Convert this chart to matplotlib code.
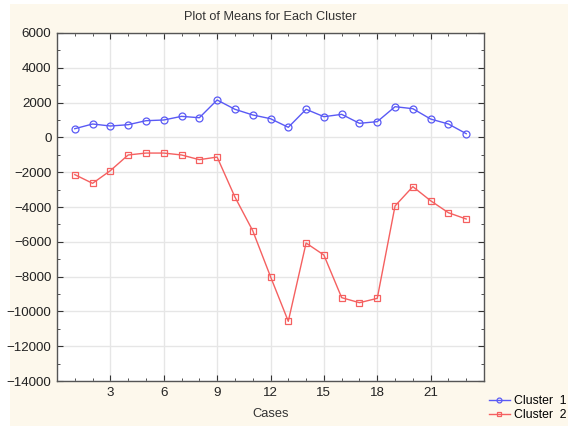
import matplotlib
matplotlib.use("Agg")
import matplotlib.pyplot as plt
from matplotlib.patches import Rectangle
from matplotlib.ticker import MultipleLocator

plt.rcParams['font.family'] = ['Liberation Sans', 'DejaVu Sans']

# mean value per case for each cluster
cases = list(range(1, 24))
cluster1 = [500, 770, 655, 730, 960, 1000, 1210, 1130, 2150, 1615, 1290, 1075,
            580, 1615, 1190, 1325, 810, 905, 1765, 1650, 1055, 770, 215]
cluster2 = [-2140, -2640, -1910, -1010, -900, -900, -1010, -1280, -1130, -3425,
            -5360, -8000, -10570, -6070, -6760, -9210, -9500, -9250, -3940,
            -2830, -3640, -4330, -4690]

fig = plt.figure(figsize=(5.68, 4.26), dpi=100)
fig.patch.set_facecolor('white')
# cream panel behind everything, leaving a thin white strip top/left
fig.add_artist(Rectangle((10 / 568, 0), 1, 1 - 4 / 426, transform=fig.transFigure,
                         facecolor='#fdf8ec', edgecolor='none', zorder=-10))

ax = fig.add_axes([57 / 568, 1 - 381 / 426, (484 - 57) / 568, (381 - 33) / 426])
ax.set_facecolor('white')

ax.plot(cases, cluster1, color='#5a5af5', lw=1, marker='o', ms=5,
        mfc='none', mec='#5a5af5', mew=0.9, label='Cluster  1')
ax.plot(cases, cluster2, color='#f56060', lw=1, marker='s', ms=5,
        mfc='none', mec='#f56060', mew=0.9, label='Cluster  2')

ax.set_xlim(0, 24)
ax.set_ylim(-14000, 6000)
ax.set_xticks(range(3, 24, 3))
ax.set_yticks(range(-14000, 6001, 2000))
ax.xaxis.set_minor_locator(MultipleLocator(1))
ax.yaxis.set_minor_locator(MultipleLocator(1000))
ax.grid(True, which='major', color='#e6e6e6', lw=1)
ax.set_axisbelow(True)
ax.tick_params(which='both', direction='in', top=True, right=True,
               labelsize=9.6, colors='#333333', labelcolor='#222222')
ax.tick_params(which='major', length=4, pad=4)
ax.tick_params(which='minor', length=2.5)
for s in ax.spines.values():
    s.set_color('#555555')
    s.set_linewidth(1)

ax.set_title('Plot of Means for Each Cluster', fontsize=9.2, color='#333333', pad=9)
ax.set_xlabel('Cases', fontsize=9.3, color='#333333', labelpad=7)

fig.legend(loc='lower left', bbox_to_anchor=(489 / 568, 5 / 426), frameon=False,
           fontsize=8.8, handlelength=1.7, handletextpad=0.35, labelspacing=0.15,
           borderpad=0, borderaxespad=0, markerscale=0.7)

fig.savefig('out.png', dpi=100, facecolor=fig.get_facecolor())
